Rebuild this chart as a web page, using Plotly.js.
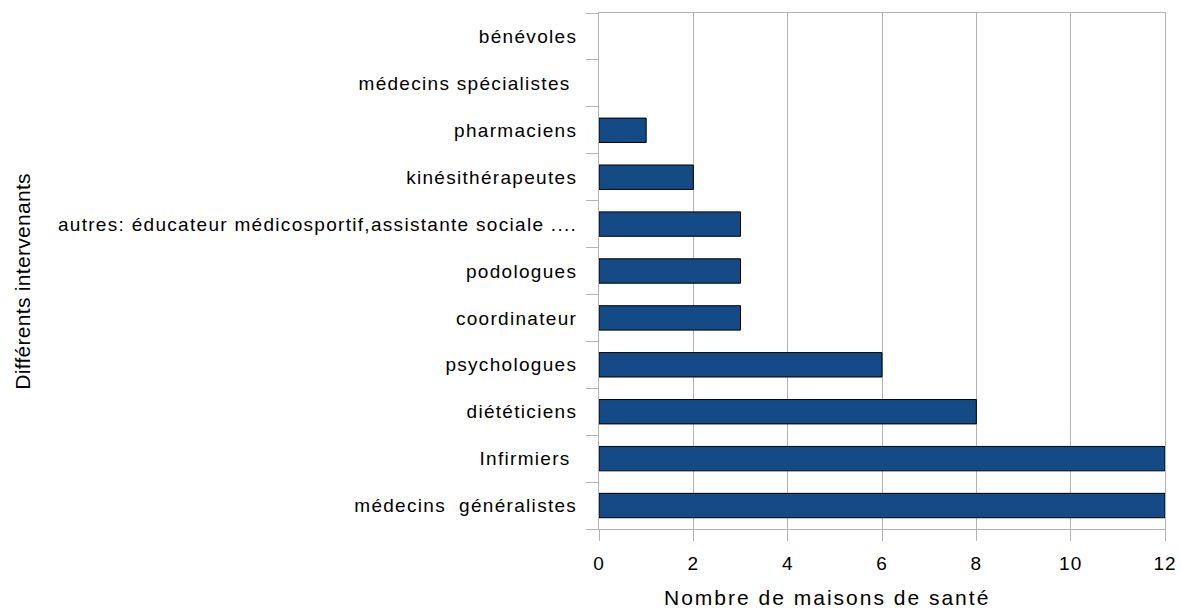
<!DOCTYPE html>
<html>
<head>
<meta charset="utf-8">
<script src="https://cdn.plot.ly/plotly-3.0.1.min.js"></script>
<style>
html,body{margin:0;padding:0;background:#fff;}
#chart{width:1181px;height:610px;}
.ytick text {letter-spacing:1.3px;}
.xtick text {letter-spacing:1px;}
.xtitle-ann text {letter-spacing:2px;}
.ytitle-ann text {letter-spacing:0.3px;}
</style>
</head>
<body>
<div id="chart"></div>
<script>
var categories = [
  "médecins\u00a0\u00a0généralistes",
  "Infirmiers\u00a0",
  "diététiciens",
  "psychologues",
  "coordinateur",
  "podologues",
  "autres: éducateur médicosportif,assistante sociale ....",
  "kinésithérapeutes",
  "pharmaciens",
  "médecins spécialistes\u00a0",
  "bénévoles"
];
var values = [12, 12, 8, 6, 3, 3, 3, 2, 1, 0, 0];
var xTicks = [0, 2, 4, 6, 8, 10, 12];
var xTitle = "Nombre de maisons de santé";
var yTitle = "Différents intervenants";

var trace = {
  type: "bar",
  orientation: "h",
  y: categories,
  x: values,
  width: 0.52,
  marker: {color: "#144a86", line: {color: "#000000", width: values.map(function(v){return v > 0 ? 1 : 0;})}},
  hoverinfo: "none"
};

var layout = {
  width: 1181,
  height: 610,
  margin: {l: 599, r: 16, t: 13, b: 81, pad: 0},
  paper_bgcolor: "#ffffff",
  plot_bgcolor: "#ffffff",
  font: {family: "Liberation Sans, Arial, sans-serif", size: 19, color: "#000000"},
  showlegend: false,
  xaxis: {
    range: [0, 12],
    tickvals: xTicks,
    ticktext: xTicks.map(String),
    showgrid: true,
    gridcolor: "#b3b3b3",
    gridwidth: 1,
    zeroline: false,
    showline: true,
    linecolor: "#b3b3b3",
    linewidth: 1,
    mirror: true,
    ticks: "outside",
    ticklen: 11,
    tickcolor: "#b3b3b3",
    ticklabelstandoff: 6,
    tickfont: {size: 19},
    automargin: false
  },
  yaxis: {
    type: "category",
    categoryorder: "array",
    categoryarray: categories,
    tickson: "boundaries",
    showgrid: false,
    zeroline: false,
    showline: true,
    linecolor: "#b3b3b3",
    linewidth: 1,
    mirror: true,
    ticks: "outside",
    ticklen: 12,
    tickcolor: "#b3b3b3",
    ticklabelstandoff: 17,
    tickfont: {size: 19},
    automargin: false
  },
  annotations: [
    {
      text: xTitle, xref: "paper", yref: "paper",
      x: (827 - 599) / 566, y: -(597 - 529) / 516, xanchor: "center", yanchor: "middle",
      showarrow: false, font: {size: 21}, name: "xtitle"
    },
    {
      text: yTitle, xref: "paper", yref: "paper",
      x: -(599 - 22) / 566, y: 0.48, xanchor: "center", yanchor: "middle",
      textangle: -90, showarrow: false, font: {size: 21}, name: "ytitle"
    }
  ]
};

Plotly.newPlot("chart", [trace], layout, {staticPlot: true, displayModeBar: false}).then(function(){
  var anns = document.querySelectorAll(".annotation");
  if (anns.length > 0) anns[0].classList.add("xtitle-ann");
  if (anns.length > 1) anns[1].classList.add("ytitle-ann");
});
</script>
</body>
</html>
